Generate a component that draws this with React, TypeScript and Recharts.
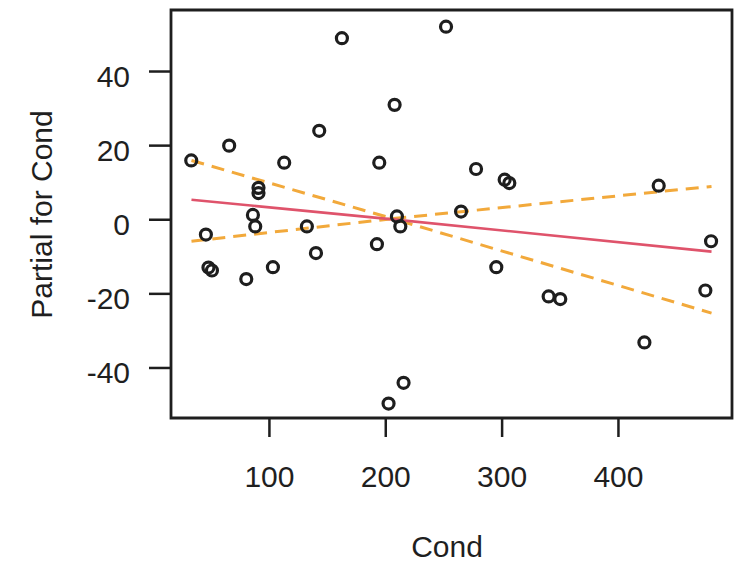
import React from "react";
import {
  ComposedChart,
  Scatter,
  XAxis,
  YAxis,
  ReferenceArea,
  Label,
} from "recharts";

// partial residuals for Cond
const condValues = [
  162.3, 251.8, 207.6, 142.8, 65.4, 32.8, 112.7, 194.4, 90.6, 90.6, 85.8,
  209.6, 132.2, 45.4, 87.8, 212.5, 47.6, 50.6, 80.1, 103.0, 140.0, 192.4,
  215.3, 202.4, 277.6, 302.2, 306.2, 434.6, 264.7, 479.6, 295.0, 340.0,
  350.0, 474.7, 422.3,
];
const partialValues = [
  49.0, 52.1, 31.0, 24.0, 20.0, 16.0, 15.4, 15.4, 8.6, 7.2, 1.3, 0.9, -1.8,
  -4.0, -1.8, -1.8, -12.9, -13.7, -16.0, -12.8, -9.0, -6.6, -44.0, -49.6,
  13.7, 10.8, 9.9, 9.2, 2.2, -5.8, -12.8, -20.7, -21.4, -19.1, -33.1,
];

// fitted term and +/- 2 se bands
const lineX = [33, 206, 480];
const fitY = [5.4, 0.1, -8.6];
const upperY = [16.0, 0.3, 9.0];
const lowerY = [-5.8, 0.3, -25.2];

const xTicks = [100, 200, 300, 400];
const yTicks = [-40, -20, 0, 20, 40];
const xDomain = [15.4, 497.6];
const yDomain = [-53.5, 56.6];

const points = condValues.map((x, i) => ({ x, y: partialValues[i] }));
const toLine = (ys: number[]) => lineX.map((x, i) => ({ x, y: ys[i] }));

const FONT = "'Liberation Sans', Arial, sans-serif";
const INK = "#1e1e1e";
const TEXT = "#1f1f1f";

const OpenCircle = (props: any) => (
  <circle
    cx={props.cx}
    cy={props.cy}
    r={5.5}
    fill="none"
    stroke={INK}
    strokeWidth={3.2}
  />
);

const NoDot = () => <g />;

const XTick = (props: any) => (
  <text
    x={props.x}
    y={487}
    textAnchor="middle"
    fontFamily={FONT}
    fontSize={30}
    fill={TEXT}
  >
    {props.payload.value}
  </text>
);

const YTick = (props: any) => (
  <text
    x={130}
    y={props.y + 15}
    textAnchor="end"
    fontFamily={FONT}
    fontSize={30}
    fill={TEXT}
  >
    {props.payload.value}
  </text>
);

export default function App() {
  return (
    <div style={{ position: "absolute", left: 0, top: 0, background: "#fff" }}>
      <ComposedChart
        width={740}
        height={566}
        margin={{ top: 10, right: 8, bottom: 0, left: 0 }}
      >
        <XAxis
          type="number"
          dataKey="x"
          domain={xDomain}
          ticks={xTicks}
          allowDataOverflow
          height={148}
          axisLine={false}
          tickSize={19}
          tickLine={{ stroke: INK, strokeWidth: 2.5 }}
          tick={XTick}
        >
          <Label
            content={() => (
              <text
                x={447}
                y={557}
                textAnchor="middle"
                fontFamily={FONT}
                fontSize={30}
                fill={TEXT}
              >
                Cond
              </text>
            )}
          />
        </XAxis>
        <YAxis
          type="number"
          dataKey="y"
          domain={yDomain}
          ticks={yTicks}
          allowDataOverflow
          width={171}
          axisLine={false}
          tickSize={22}
          tickLine={{ stroke: INK, strokeWidth: 2.5 }}
          tick={YTick}
        >
          <Label
            content={() => (
              <text
                x={52}
                y={214.5}
                transform="rotate(-90, 52, 214.5)"
                textAnchor="middle"
                fontFamily={FONT}
                fontSize={30}
                fill={TEXT}
              >
                Partial for Cond
              </text>
            )}
          />
        </YAxis>
        <ReferenceArea
          x1={xDomain[0]}
          x2={xDomain[1]}
          y1={yDomain[0]}
          y2={yDomain[1]}
          fill="none"
          fillOpacity={0}
          stroke={INK}
          strokeWidth={2.8}
          ifOverflow="visible"
        />
        <Scatter
          data={toLine(upperY)}
          line={{ stroke: "#F2A93B", strokeWidth: 3, strokeDasharray: "13 8" }}
          lineType="joint"
          shape={NoDot}
          isAnimationActive={false}
        />
        <Scatter
          data={toLine(lowerY)}
          line={{ stroke: "#F2A93B", strokeWidth: 3, strokeDasharray: "13 8" }}
          lineType="joint"
          shape={NoDot}
          isAnimationActive={false}
        />
        <Scatter
          data={toLine(fitY)}
          line={{ stroke: "#DF536B", strokeWidth: 2.6 }}
          lineType="joint"
          shape={NoDot}
          isAnimationActive={false}
        />
        <Scatter data={points} shape={OpenCircle} isAnimationActive={false} />
      </ComposedChart>
    </div>
  );
}
